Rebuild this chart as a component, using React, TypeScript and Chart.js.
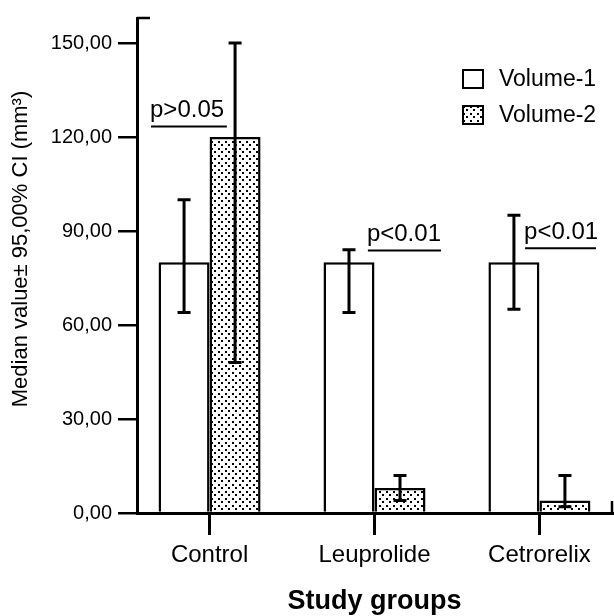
import React, { useEffect, useRef } from 'react';
import { Chart, registerables, CategoryScale } from 'chart.js';

// ---------- data ----------
const categories = ['Control', 'Leuprolide', 'Cetrorelix'];
const seriesLabels = ['Volume-1', 'Volume-2'];
const volume1 = [80, 80, 80];
const volume1Lower = [64, 64, 65];
const volume1Upper = [100, 84, 95];
const volume2 = [120, 8, 4];
const volume2Lower = [48, 4, 2];
const volume2Upper = [150, 12, 12];
const yTicks = [0, 30, 60, 90, 120, 150];
const yMax = 158;
const pTexts = ['p>0.05', 'p<0.01', 'p<0.01'];
const pLineValue = [123.4, 83.8, 84.5];
const pLineFrom = [-0.355, 0.96, 1.913];
const pLineTo = [0.105, 1.403, 2.343];
const yTitle = 'Median value\u00b1 95,00% CI (mm\u00b3)';
const xTitle = 'Study groups';

const FONT = '"Liberation Sans", Arial, Helvetica, sans-serif';

// Category scale whose first/last categories sit a chosen distance from the edges
class EdgeCategoryScale extends CategoryScale {
  static id = 'edgeCategory';
  static defaults = CategoryScale.defaults;
  configure() {
    super.configure();
    const self: any = this;
    const edge = self.options && typeof self.options.edge === 'number' ? self.options.edge : 0.44;
    self._startValue = self.min - edge;
    self._valueRange = Math.max(self.max - self.min + 2 * edge, 1e-6);
  }
}

Chart.register(...registerables, EdgeCategoryScale as any);

function makePattern(): CanvasPattern | string {
  const c = document.createElement('canvas');
  c.width = 7;
  c.height = 7;
  const g = c.getContext('2d');
  if (!g) return '#ccc';
  g.fillStyle = '#fff';
  g.fillRect(0, 0, 7, 7);
  g.fillStyle = '#000';
  g.fillRect(1, 1, 2, 2);
  g.fillRect(4, 4, 2, 2);
  const ctx = document.createElement('canvas').getContext('2d');
  return (ctx && ctx.createPattern(c, 'repeat')) || '#ccc';
}

const errorLows = [volume1Lower, volume2Lower];
const errorHighs = [volume1Upper, volume2Upper];

const errorBarPlugin = {
  id: 'errorBars',
  afterDatasetsDraw(chart: any) {
    const { ctx } = chart;
    const ys = chart.scales.y;
    chart.data.datasets.forEach((_ds: any, di: number) => {
      const meta = chart.getDatasetMeta(di);
      meta.data.forEach((bar: any, i: number) => {
        const x = bar.x;
        const yl = ys.getPixelForValue(errorLows[di][i]);
        const yh = ys.getPixelForValue(errorHighs[di][i]);
        const cap = 6.5;
        ctx.save();
        ctx.strokeStyle = '#000';
        ctx.lineWidth = 3;
        ctx.beginPath();
        ctx.moveTo(x, yl);
        ctx.lineTo(x, yh);
        ctx.moveTo(x - cap, yl);
        ctx.lineTo(x + cap, yl);
        ctx.moveTo(x - cap, yh);
        ctx.lineTo(x + cap, yh);
        ctx.stroke();
        ctx.restore();
      });
    });
  },
};

const annotationPlugin = {
  id: 'annotations',
  afterDraw(chart: any) {
    const { ctx, chartArea } = chart;
    const xs = chart.scales.x;
    const ys = chart.scales.y;
    ctx.save();
    // p-value labels with underline
    ctx.fillStyle = '#000';
    ctx.strokeStyle = '#000';
    ctx.font = `24px ${FONT}`;
    ctx.textAlign = 'left';
    ctx.textBaseline = 'alphabetic';
    pTexts.forEach((t, i) => {
      const x1 = xs.getPixelForValue(pLineFrom[i]);
      const x2 = xs.getPixelForValue(pLineTo[i]);
      const yy = ys.getPixelForValue(pLineValue[i]);
      ctx.fillText(t, x1 - 1, yy - 9);
      ctx.lineWidth = 2;
      ctx.beginPath();
      ctx.moveTo(x1, yy);
      ctx.lineTo(x2, yy);
      ctx.stroke();
    });

    // legend
    ctx.font = `23px ${FONT}`;
    ctx.textBaseline = 'middle';
    chart.data.datasets.forEach((ds: any, i: number) => {
      const cy = chartArea.top + 61 + i * 36;
      const bx = chartArea.right - 149;
      ctx.fillStyle = ds.backgroundColor;
      ctx.fillRect(bx, cy - 9, 20, 18);
      ctx.lineWidth = 2;
      ctx.strokeStyle = '#000';
      ctx.strokeRect(bx, cy - 9, 20, 18);
      ctx.fillStyle = '#000';
      ctx.fillText(ds.label, bx + 36, cy + 1);
    });

    // frame corner ticks
    ctx.lineWidth = 2.5;
    ctx.beginPath();
    ctx.moveTo(chartArea.left, chartArea.top);
    ctx.lineTo(chartArea.left + 13, chartArea.top);
    ctx.moveTo(chartArea.right, chartArea.bottom);
    ctx.lineTo(chartArea.right, chartArea.bottom - 12);
    ctx.stroke();

    // y axis title
    ctx.font = `22px ${FONT}`;
    ctx.textAlign = 'center';
    ctx.textBaseline = 'middle';
    ctx.translate(21, 249);
    ctx.rotate(-Math.PI / 2);
    ctx.fillText(yTitle, 0, 0);
    ctx.restore();
  },
};

export default function App() {
  const ref = useRef<HTMLCanvasElement | null>(null);
  useEffect(() => {
    if (!ref.current) return;
    Chart.defaults.font.family = FONT;
    Chart.defaults.color = '#000';
    const pattern = makePattern();
    const chart = new Chart(ref.current, {
      type: 'bar',
      data: {
        labels: categories,
        datasets: [
          {
            label: seriesLabels[0],
            data: volume1,
            backgroundColor: '#ffffff',
            borderColor: '#000000',
            borderWidth: 2.5,
            barPercentage: 1,
            categoryPercentage: 0.6185,
          },
          {
            label: seriesLabels[1],
            data: volume2,
            backgroundColor: pattern as any,
            borderColor: '#000000',
            borderWidth: 2.5,
            barPercentage: 1,
            categoryPercentage: 0.6185,
          },
        ],
      },
      options: {
        animation: false,
        responsive: false,
        maintainAspectRatio: false,
        devicePixelRatio: 1,
        layout: { padding: { top: 15, right: 2, left: 0, bottom: 0 } },
        plugins: {
          legend: { display: false },
          tooltip: { enabled: false },
          title: { display: false },
        },
        scales: {
          x: {
            type: 'edgeCategory' as any,
            edge: 0.44,
            grid: {
              offset: false,
              drawOnChartArea: false,
              drawTicks: true,
              tickLength: 22,
              lineWidth: 3,
              color: '#000',
            },
            border: { display: true, color: '#000', width: 3 },
            ticks: {
              font: { size: 24 },
              color: '#000',
              padding: 6,
              maxRotation: 0,
              autoSkip: false,
            },
            title: {
              display: true,
              text: xTitle,
              color: '#000',
              font: { size: 27, weight: 'bold', lineHeight: 1.1 },
              padding: 0,
            },
            afterFit: (s: any) => {
              s.height = 103;
            },
          } as any,
          y: {
            min: 0,
            max: yMax,
            afterBuildTicks: (s: any) => {
              s.ticks = yTicks.map((v) => ({ value: v }));
            },
            ticks: {
              font: { size: 20 },
              color: '#000',
              padding: 6,
              callback: (v: any) => Number(v).toFixed(2).replace('.', ','),
            },
            grid: {
              drawOnChartArea: false,
              drawTicks: true,
              tickLength: 19,
              lineWidth: 2.5,
              color: '#000',
            },
            border: { display: true, color: '#000', width: 3 },
            afterFit: (s: any) => {
              s.width = 137;
            },
          },
        },
      },
      plugins: [errorBarPlugin, annotationPlugin],
    });
    return () => chart.destroy();
  }, []);
  return (
    <div style={{ position: 'absolute', left: 0, top: 0, width: 614, height: 616, background: '#fff' }}>
      <canvas ref={ref} width={614} height={616} style={{ display: 'block' }} />
    </div>
  );
}
